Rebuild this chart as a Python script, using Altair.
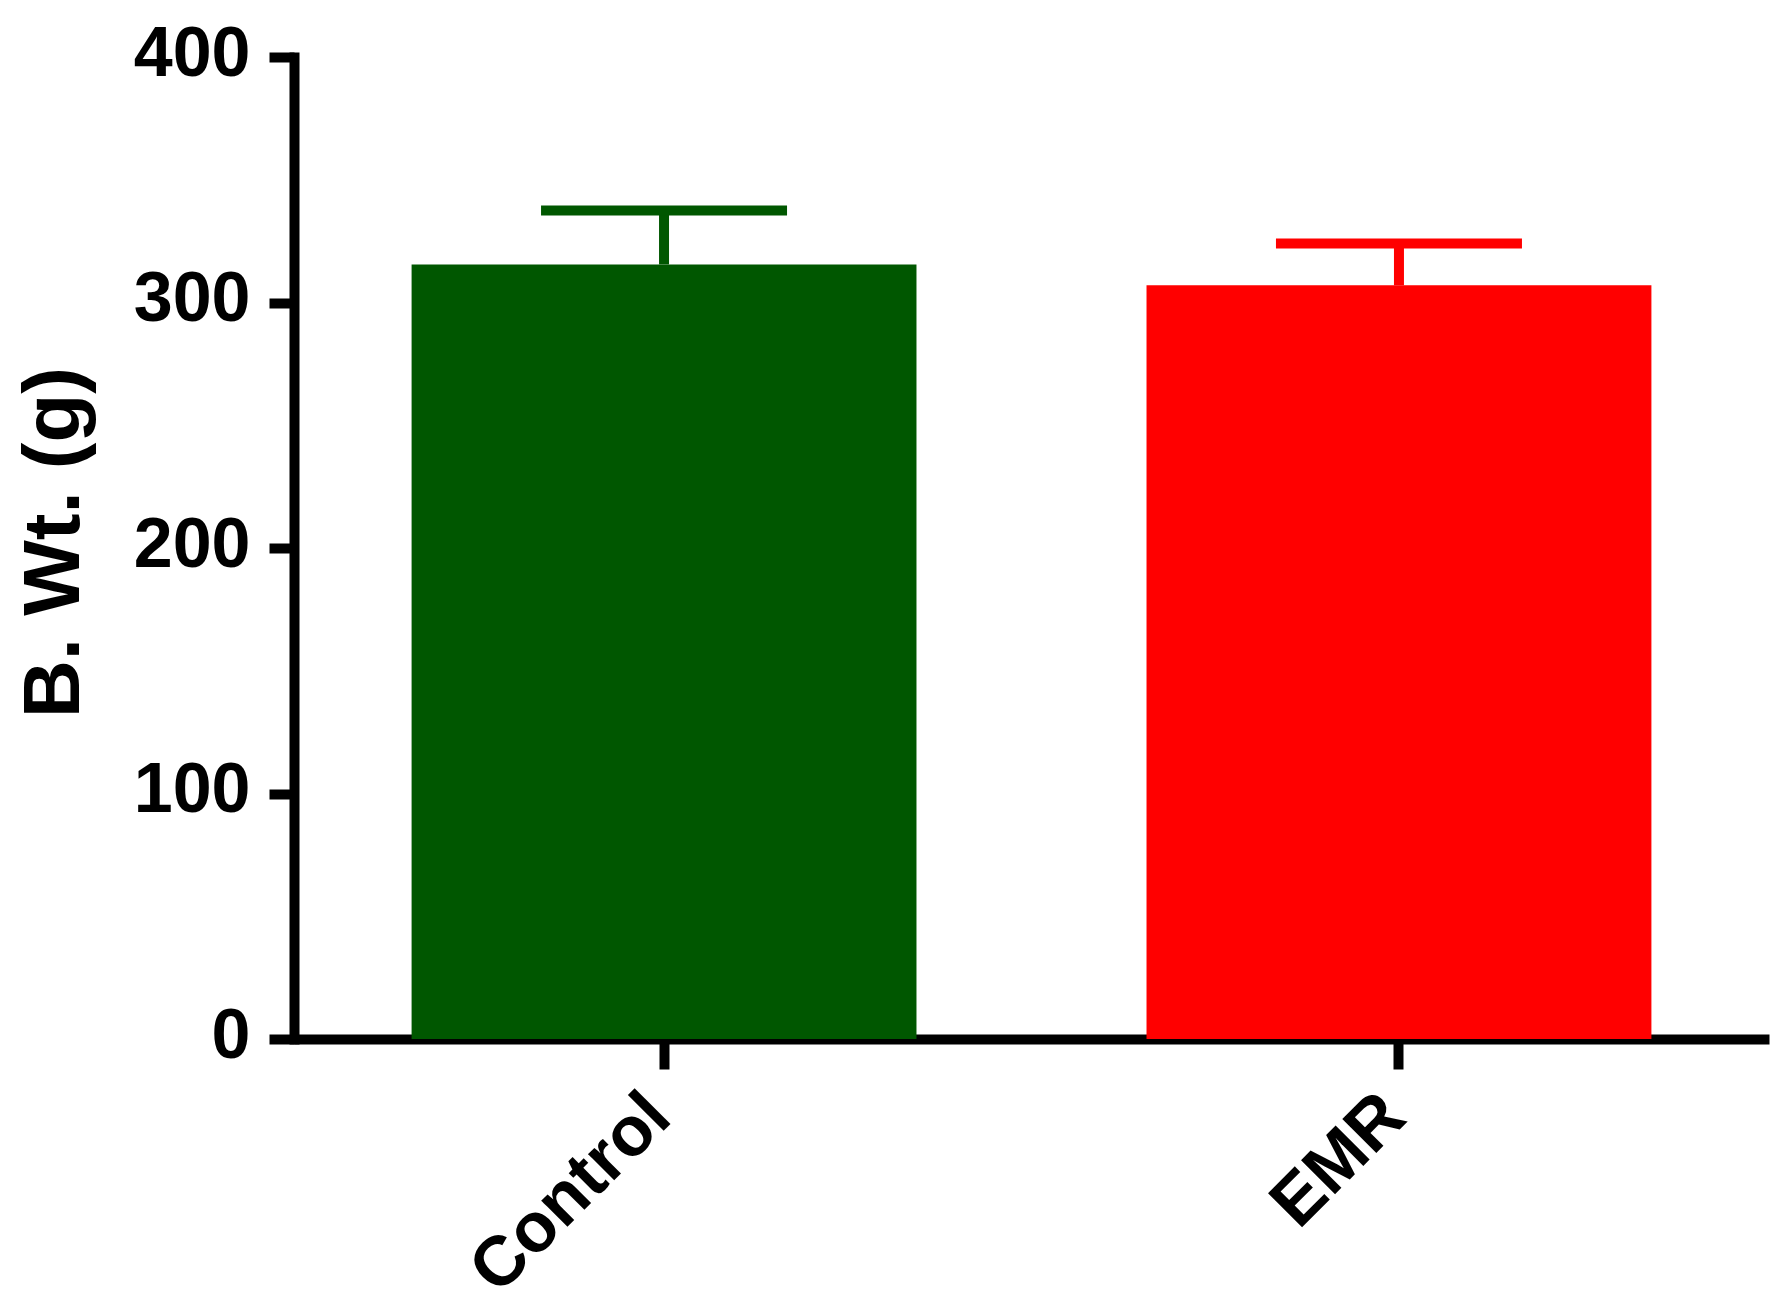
import altair as alt
import pandas as pd

groups = ["Control", "EMR"]
means = [315.5, 307]
sems = [22, 17]
colors = ["#005700", "#ff0000"]
y_ticks = [0, 100, 200, 300, 400]

df = pd.DataFrame({"group": groups, "mean": means, "sem": sems, "color": colors})
df["top"] = df["mean"] + df["sem"]

FONT = "Liberation Sans"

x_enc = alt.X(
    "group:N", sort=groups, title=None,
    scale=alt.Scale(paddingInner=0.313, paddingOuter=0.16),
    axis=alt.Axis(
        labelAngle=315, labelAlign="right", labelBaseline="top", labelLimit=0,
        labelFont=FONT, labelFontSize=70, labelFontWeight="bold", labelColor="black",
        labelPadding=12, labelOffset=-29,
        tickSize=30, tickWidth=10, tickColor="black",
        domainWidth=10, domainColor="black", domainCap="butt", grid=False,
    ),
)

y_axis = alt.Axis(
    values=y_ticks, grid=False,
    labelFont=FONT, labelFontSize=70, labelFontWeight="bold", labelColor="black",
    labelPadding=19, labelBaseline="middle", labelOffset=-3,
    tickSize=25, tickWidth=10, tickColor="black",
    domainWidth=10, domainColor="black", domainCap="square",
    title="B. Wt. (g)", titleFont=FONT, titleFontSize=80, titleFontWeight="bold",
    titleColor="black", titleAngle=270, titleAlign="center", titleBaseline="alphabetic",
    titleX=-216, titleY=485, titleLimit=0,
)
y_scale = alt.Scale(domain=[0, 400], nice=False)

base = alt.Chart(df)

bars = base.mark_bar().encode(
    x=x_enc,
    y=alt.Y("mean:Q", scale=y_scale, axis=y_axis),
    color=alt.Color("color:N", scale=None),
)

stems = base.mark_rule(strokeWidth=10).encode(
    x=x_enc,
    y=alt.Y("mean:Q", scale=y_scale, axis=y_axis),
    y2="top:Q",
    color=alt.Color("color:N", scale=None),
)

caps = base.mark_tick(thickness=10, size=246, opacity=1).encode(
    x=x_enc,
    y=alt.Y("top:Q", scale=y_scale, axis=y_axis),
    color=alt.Color("color:N", scale=None),
)

chart = alt.layer(stems, caps, bars).properties(
    width=1475, height=982,
    autosize=alt.AutoSizeParams(type="none"),
    padding={"left": 286, "top": 49, "right": 10, "bottom": 259},
).configure_view(stroke=None)

chart.save("out.html", embed_options={"renderer": "svg", "actions": False})
